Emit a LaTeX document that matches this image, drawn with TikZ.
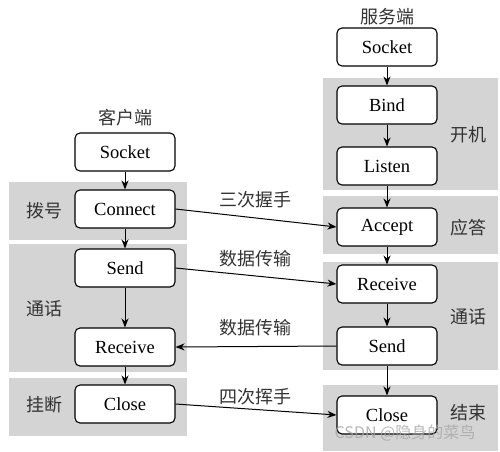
\documentclass[tikz,border=0pt]{standalone}
\usepackage{fontspec}
\setmainfont{Liberation Serif}
\newfontfamily\cjk{Noto Sans CJK SC}
\usetikzlibrary{arrows.meta}
\definecolor{band}{RGB}{212,212,212}
\begin{document}
\begin{tikzpicture}[x=1pt,y=-1pt,
  box/.style={draw, line width=1.1pt, rounded corners=5pt, fill=white, minimum width=100pt, minimum height=38pt, font=\fontsize{18.5}{18.5}\selectfont},
  lab/.style={font=\cjk\fontsize{18}{18}\selectfont, text=black!80},
  arr/.style={line width=1pt, -{Stealth[length=9pt,width=7pt]}},
  bandbox/.style={fill=band, draw=none}]
\useasboundingbox (0,0) rectangle (500,451);
\fill[white] (0,0) rectangle (500,451);
% bands
\fill[band] (9,182) rectangle (187,240);
\fill[band] (9,244) rectangle (187,372);
\fill[band] (9,378) rectangle (187,436);
\fill[band] (323,78) rectangle (498,190);
\fill[band] (323,196) rectangle (498,254);
\fill[band] (323,262) rectangle (498,370);
\fill[band] (323,385) rectangle (498,451);
% headers
\node[lab] (ch) at (125,118) {客户端};
\node[lab] (sh) at (387,17) {服务端};
% band labels
\node[lab] (l1) at (44,211) {拨号};
\node[lab] (l2) at (44,309) {通话};
\node[lab] (l3) at (44,405) {挂断};
\node[lab] (r1) at (468,135) {开机};
\node[lab] (r2) at (468,228) {应答};
\node[lab] (r3) at (468,317) {通话};
\node[lab] (r4) at (468,413) {结束};
% client boxes
\node[box] (cs) at (125,152) {Socket};
\node[box] (cc) at (125,209) {Connect};
\node[box] (csd) at (125,268) {Send};
\node[box] (crv) at (125,347) {Receive};
\node[box] (ccl) at (125,404) {Close};
% server boxes
\node[box] (ss) at (387,47) {Socket};
\node[box] (sb) at (387,105) {Bind};
\node[box] (sl) at (387,166) {Listen};
\node[box] (sa) at (387,227) {Accept};
\node[box] (srv) at (387,284) {Receive};
\node[box] (ssd) at (387,346) {Send};
\node[box] (scl) at (387,415) {Close};
% vertical arrows
\draw[arr] (cs) -- (cc);
\draw[arr] (cc) -- (csd);
\draw[arr] (csd) -- (crv);
\draw[arr] (crv) -- (ccl);
\draw[arr] (ss) -- (sb);
\draw[arr] (sb) -- (sl);
\draw[arr] (sl) -- (sa);
\draw[arr] (sa) -- (srv);
\draw[arr] (srv) -- (ssd);
\draw[arr] (ssd) -- (scl);
% horizontal arrows
\draw[arr] (cc.east) -- (sa.west);
\draw[arr] (csd.east) -- (srv.west);
\draw[arr] (ssd.west) -- (crv.east);
\draw[arr] (ccl.east) -- (scl.west);
\node[lab] (t1) at (255,200) {三次握手};
\node[lab] (t2) at (255,259) {数据传输};
\node[lab] (t3) at (255,328) {数据传输};
\node[lab] (t4) at (255,397) {四次挥手};
% watermark
\node[font=\cjk\fontsize{16}{16}\selectfont, text=black!35, opacity=0.8] (wm) at (405,433) {CSDN @隐身的菜鸟};
\end{tikzpicture}
\end{document}
